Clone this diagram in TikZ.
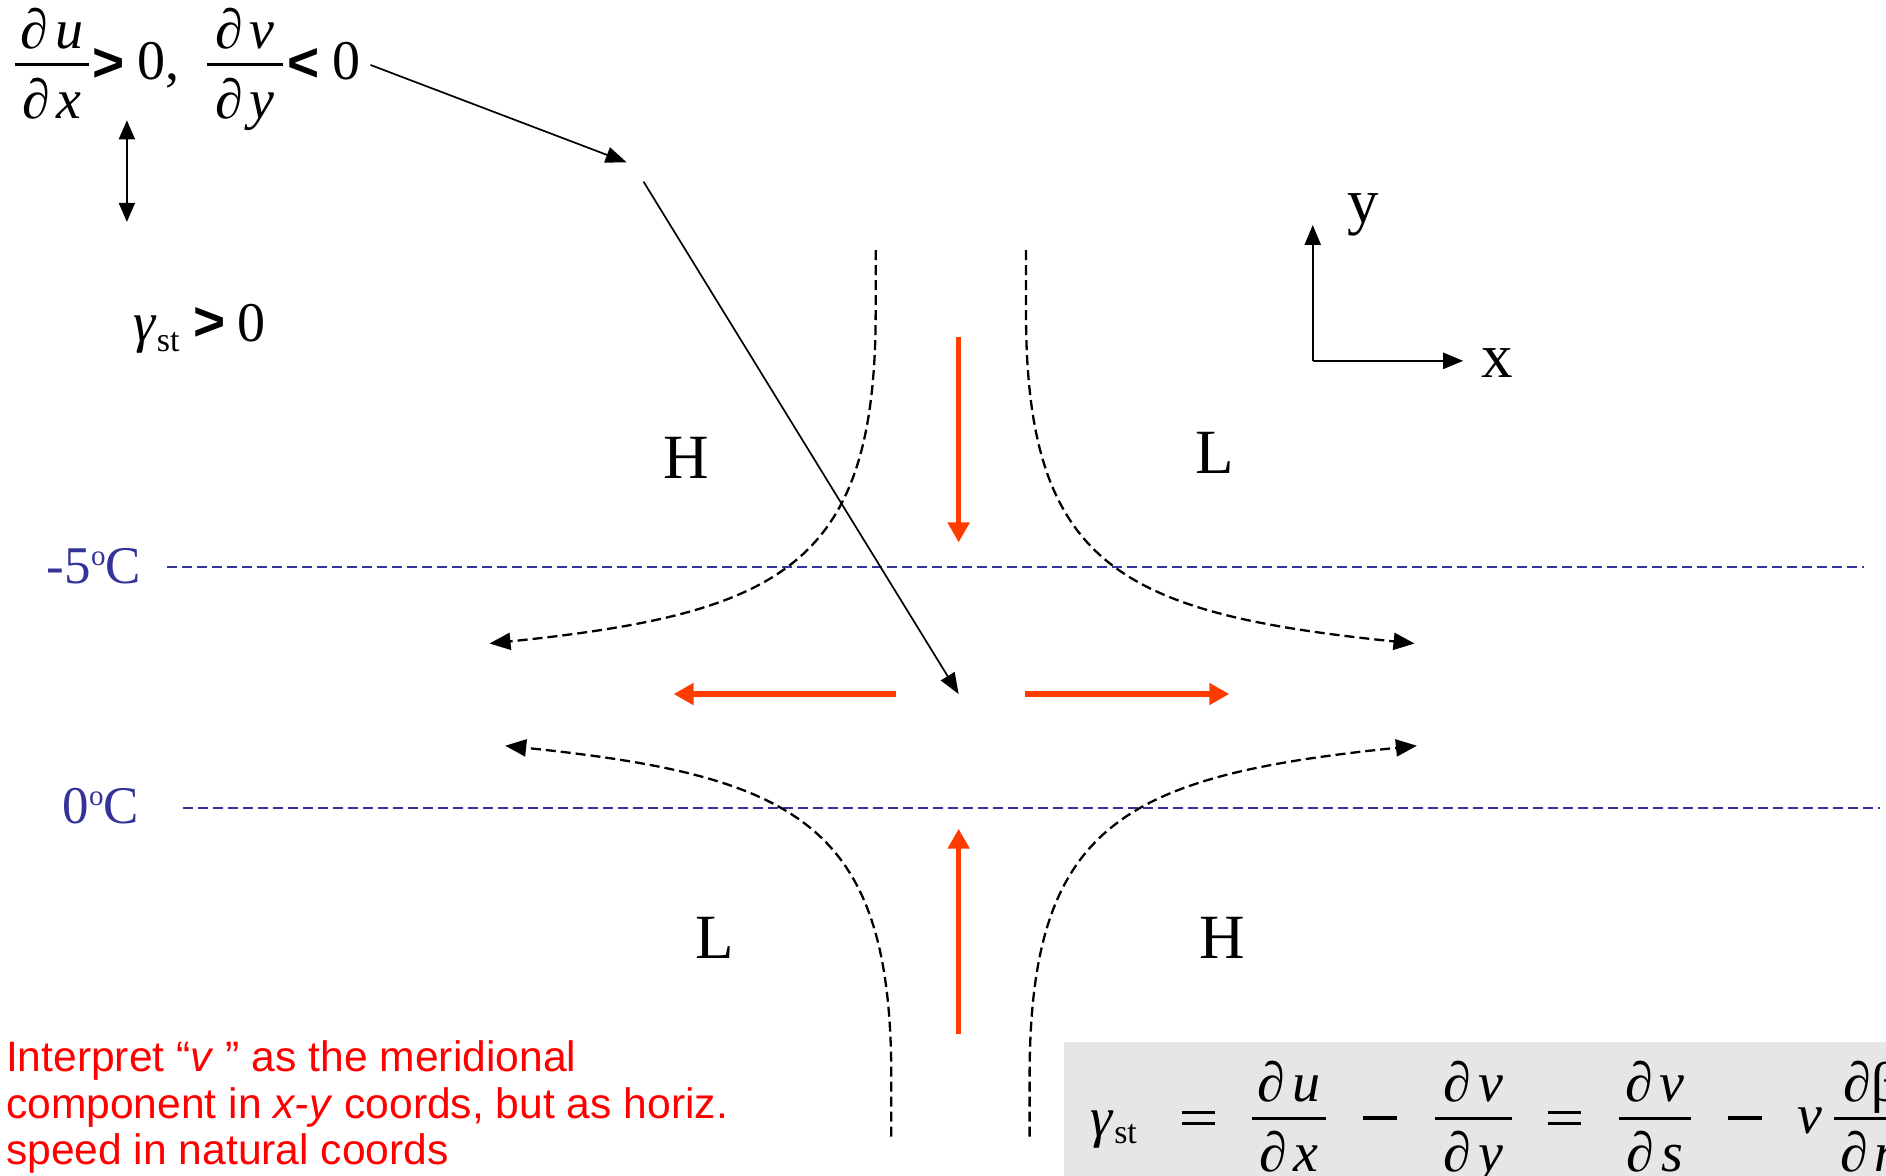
\documentclass[tikz,border=0pt]{standalone}
\usepackage{fontspec}
\setmainfont{Liberation Serif}
\newfontfamily\sansf{Liberation Sans}
\usetikzlibrary{arrows.meta}
\definecolor{flowred}{RGB}{255,60,0}
\definecolor{tempblue}{RGB}{51,51,153}
\definecolor{boxgray}{RGB}{230,230,230}
\newcommand\pd{∂\kern0.12em}
\newcommand\mminus{\rule{34pt}{3.4pt}}
\newcommand\meq{\vbox{\hrule width 33pt height 3.4pt\vskip 8pt\hrule width 33pt height 3.4pt}}
\newcommand\fracat[6]{%
  \draw[fracbar] ({#1-#3},#2) -- ({#1+#3},#2);
  \node[frm,anchor=base] (#6n) at (#1,{#2-13.5}) {#4};
  \node[frm,anchor=base] (#6d) at (#1,{#2+44.5}) {#5};
}
\begin{document}
\begin{tikzpicture}[x=1.2028pt,y=-1.2028pt,
  txt/.style={inner sep=0pt,outer sep=0pt},
  frm/.style={txt,font=\fontsize{56}{60}\selectfont},
  rel/.style={txt,font=\fontsize{55}{60}\selectfont\sansf\bfseries},
  letter/.style={txt,font=\fontsize{63}{70}\selectfont},
  axlab/.style={txt,font=\fontsize{63}{70}\selectfont},
  templab/.style={txt,text=tempblue,font=\fontsize{53}{60}\selectfont},
  note/.style={txt,text=red,font=\fontsize{42.6}{46}\selectfont\sansf},
  fracbar/.style={line width=3pt},
  stream/.style={line width=2.3pt,dash pattern=on 10pt off 5pt,-{Triangle[length=21pt,width=17pt]}},
  isoline/.style={tempblue,line width=2pt,dash pattern=on 10pt off 5pt},
  flow/.style={flowred,line width=5.5pt,-{Triangle[length=20pt,width=21pt]}},
  thinarrow/.style={line width=1.7pt,-{Triangle[length=21pt,width=16pt]}},
  axis/.style={line width=2.2pt,-{Triangle[length=20pt,width=16pt]}}]
\useasboundingbox (0,0) rectangle (1568,977);
\clip (0,0) rectangle (1568,977);

% gray formula box
\fill[boxgray] (884.6,866) rectangle (1580,990);

% isotherms
\draw[isoline] (139,471.2) -- (1550,471.2);
\draw[isoline] (152,672) -- (1563,672);
\node[templab,anchor=base west] (t5) at (39,484.7) {-5\raisebox{18pt}{\fontsize{29}{29}\selectfont o}C};
\node[templab,anchor=base west] (t0) at (52,685) {0\raisebox{18pt}{\fontsize{29}{29}\selectfont o}C};

% streamlines
\draw[stream] (728,208) -- (728,260) .. controls (728,470) and (650,510) .. (407,535);
\draw[stream] (853,208) -- (853,260) .. controls (853,470) and (931,510) .. (1176,535);
\draw[stream] (741,945) -- (741,895) .. controls (741,685) and (663,645) .. (420,620);
\draw[stream] (856,945) -- (856,895) .. controls (856,685) and (934,645) .. (1178,620);

% red flow arrows
\coordinate (dn0) at (797,280); \coordinate (dn1) at (797,451);
\coordinate (up0) at (797,860); \coordinate (up1) at (797,689);
\coordinate (lf0) at (745,577); \coordinate (lf1) at (560,577);
\coordinate (rt0) at (852,577); \coordinate (rt1) at (1022,577);
\draw[flow] (dn0) -- (dn1);
\draw[flow] (up0) -- (up1);
\draw[flow] (lf0) -- (lf1);
\draw[flow] (rt0) -- (rt1);

% H / L labels
\node[letter,anchor=base] (H1) at (570.5,398) {H};
\node[letter,anchor=base] (L1) at (1010,394) {L};
\node[letter,anchor=base] (L2) at (594,797) {L};
\node[letter,anchor=base] (H2) at (1016.5,797) {H};

% axes
\coordinate (org) at (1091.4,300);
\coordinate (ytip) at (1091.4,187);
\coordinate (xtip) at (1216.5,300);
\draw[axis] (org) -- (ytip);
\draw[axis] (org) -- (xtip);
\node[axlab,anchor=base] (ylab) at (1133,185) {y};
\node[axlab,anchor=base] (xlab) at (1244.6,313.5) {x};

% top formula
\fracat{43.3}{54}{30.8}{\pd\textit{u}}{\pd\textit{x}}{fa}
\node[rel] (gt1) at (90.2,54) {>};
\node[frm,anchor=base west] (z1) at (114.2,66.5) {0,};
\fracat{203.7}{54}{31.6}{\pd\textit{v}}{\pd\textit{y}}{fb}
\node[rel] (lt1) at (252.7,54) {<};
\node[frm,anchor=base west] (z2) at (276.4,66.5) {0};

% double arrow
\coordinate (da0) at (105.5,100);
\coordinate (da1) at (105.5,184.5);
\draw[line width=1.7pt,{Triangle[length=19pt,width=16pt]}-{Triangle[length=19pt,width=16pt]}] (da0) -- (da1);

% gamma_st > 0
\node[frm,anchor=base west] (gam) at (111,284.3) {\textit{γ}\raisebox{-10pt}{\fontsize{34}{34}\selectfont st}};
\node[rel] (gt2) at (174.2,269.4) {>};
\node[frm,anchor=base west] (z3) at (197.4,284.3) {0};

% long thin arrows
\coordinate (a1s) at (308,54);
\coordinate (a1e) at (521,135);
\coordinate (a2s) at (535,151);
\coordinate (a2e) at (797,577);
\draw[thinarrow] (a1s) -- (a1e);
\draw[thinarrow] (a2s) -- (a2e);

% note
\node[note,anchor=base west] (n1) at (5,891) {Interpret “\textit{v} ” as the meridional};
\node[note,anchor=base west] (n2) at (5,930) {component in \textit{x-y} coords, but as horiz.};
\node[note,anchor=base west] (n3) at (5,968) {speed in natural coords};

% box formula
\node[frm,anchor=base west] (bg) at (907,945) {\textit{γ}\raisebox{-7pt}{\fontsize{34}{34}\selectfont st}};
\node[txt] (eq1) at (996.8,929.5) {\meq};
\fracat{1071.7}{929.5}{30.7}{\pd\textit{u}}{\pd\textit{x}}{fc}
\node[txt] (mi1) at (1146.9,929.5) {\mminus};
\fracat{1225}{929.5}{32}{\pd\textit{v}}{\pd\textit{y}}{fd}
\node[txt] (eq2) at (1300.3,929.5) {\meq};
\fracat{1376}{929.5}{30}{\pd\textit{v}}{\pd\textit{s}}{fe}
\node[txt] (mi2) at (1450.4,929.5) {\mminus};
\node[frm,anchor=base west] (vv) at (1494,942) {\textit{v}};
\fracat{1556}{929.5}{31.2}{∂β}{\pd\textit{n}}{ff}
\end{tikzpicture}
\end{document}
